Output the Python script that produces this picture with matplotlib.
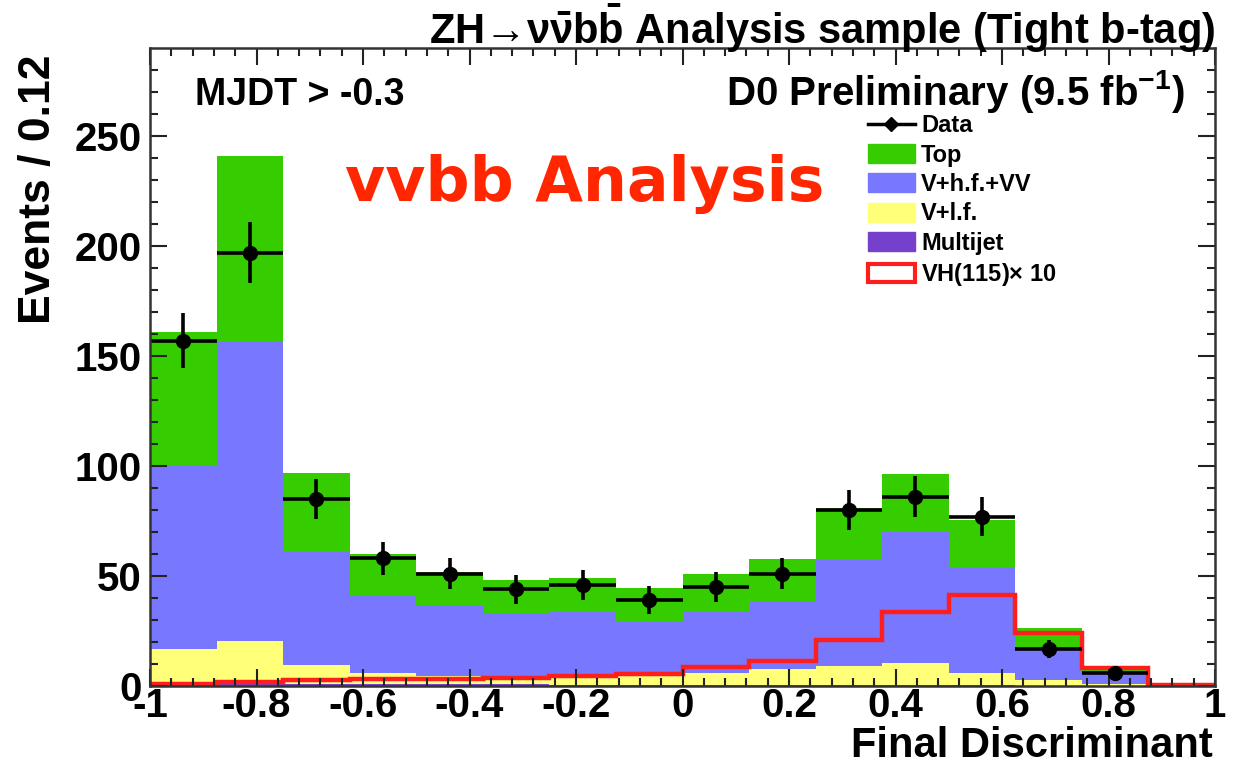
import numpy as np
import matplotlib
matplotlib.use("Agg")
import matplotlib.pyplot as plt
from matplotlib.patches import Patch
from matplotlib.lines import Line2D

plt.rcParams['font.family'] = ['Liberation Sans', 'DejaVu Sans']
plt.rcParams['font.weight'] = 'bold'
plt.rcParams['axes.unicode_minus'] = False
plt.rcParams['mathtext.fontset'] = 'custom'
plt.rcParams['mathtext.rm'] = 'Liberation Sans:bold'
plt.rcParams['mathtext.bf'] = 'Liberation Sans:bold'
plt.rcParams['mathtext.it'] = 'Liberation Sans:bold'
plt.rcParams['mathtext.default'] = 'bf'

# 16 bins of the final discriminant, -1 .. 1
bin_edges = np.linspace(-1, 1, 17)

# stacked backgrounds (events per bin)
multijet = [1.5, 1.5, 1.0, 1.0, 0.8, 0.8, 0.6, 0.5, 0.5, 0.5, 0.4, 0.4, 0.3, 0.2, 0.1, 0.0]
v_lf = [15.1, 19.1, 8.5, 5.0, 3.7, 3.2, 3.9, 4.5, 5.5, 7.1, 8.7, 10.2, 5.7, 2.5, 0.9, 0.0]
v_hf_vv = [83.4, 136.4, 52.0, 35.5, 32.5, 29.3, 29.2, 24.2, 27.7, 31.0, 48.8, 59.4, 47.7, 14.3, 5.0, 0.0]
top = [61.0, 84.0, 35.5, 18.5, 15.0, 14.7, 15.6, 15.3, 17.0, 19.0, 23.1, 26.4, 21.6, 9.2, 1.3, 0.0]

# signal VH(115) x 10
vh_signal = [1.0, 2.0, 2.5, 3.3, 3.3, 3.6, 4.7, 5.3, 8.6, 11.3, 20.9, 33.7, 41.3, 23.9, 8.0, 0.3]

# observed data (last bin empty)
data = [157, 197, 85, 58, 51, 44, 46, 39, 45, 51, 80, 86, 77, 17, 6]

green = '#35cc00'
blue = '#7878ff'
yellow = '#ffff78'
purple = '#7440cc'
red = '#ff1e1e'

fig = plt.figure(figsize=(12.49, 7.65), dpi=100)
ax = fig.add_axes([0.1201, 0.1033, 0.8527, 0.834])

width = np.diff(bin_edges)
left = bin_edges[:-1]
bottom = np.zeros(16)
for vals, col in [(multijet, purple), (v_lf, yellow), (v_hf_vv, blue), (top, green)]:
    ax.bar(left, vals, width=width, bottom=bottom, align='edge', color=col, linewidth=0)
    bottom = bottom + np.array(vals)

ax.stairs(vh_signal, bin_edges, color=red, linewidth=3.2, baseline=None)

centers = (bin_edges[:-1] + bin_edges[1:]) / 2
nd = len(data)
ax.errorbar(centers[:nd], data, yerr=np.sqrt(data), xerr=width[:nd] / 2,
            fmt='o', color='black', markersize=10, elinewidth=2.6, capsize=0)

ax.set_xlim(-1, 1)
ax.set_ylim(0, 290)
ax.set_xticks([-1, -0.8, -0.6, -0.4, -0.2, 0, 0.2, 0.4, 0.6, 0.8, 1])
ax.set_xticklabels(['-1', '-0.8', '-0.6', '-0.4', '-0.2', '0', '0.2', '0.4', '0.6', '0.8', '1'])
ax.set_xticks(np.arange(-1, 1.001, 0.04), minor=True)
ax.set_yticks([0, 50, 100, 150, 200, 250])
ax.set_yticks(np.arange(0, 290, 10), minor=True)
ax.tick_params(which='both', direction='in', top=True, right=True, width=1.5, color='#222222')
ax.tick_params(which='major', length=12, labelsize=29)
ax.tick_params(which='minor', length=6)
ax.tick_params(axis='x', pad=1)
ax.tick_params(axis='y', pad=6)
for s in ax.spines.values():
    s.set_linewidth(1.8)
    s.set_color('#333333')

fig.text(39 / 1249, 1 - 55 / 765, 'Events / 0.12', rotation=90, ha='center', va='top', fontsize=32)
fig.text(1213 / 1249, 1 - 757 / 765, 'Final Discriminant', ha='right', va='baseline', fontsize=30)
fig.text(1215 / 1249, 1 - 44 / 765, r'ZH→$\nu\bar{\nu}b\bar{b}$ Analysis sample (Tight b-tag)',
         ha='right', va='baseline', fontsize=30)
fig.text(195 / 1249, 1 - 105 / 765, 'MJDT > -0.3', ha='left', va='baseline', fontsize=27)
fig.text(1185 / 1249, 1 - 105 / 765, r'D0 Preliminary (9.5 fb$^{-1}$)', ha='right', va='baseline', fontsize=29)
fig.text(345 / 1249, 1 - 201 / 765, 'vvbb Analysis', ha='left', va='baseline', fontsize=44.5,
         color='#ff2600', family='DejaVu Sans', weight='bold')

handles = [
    Line2D([], [], color='black', marker='D', markersize=7, linewidth=2.5),
    Patch(facecolor=green, edgecolor=green),
    Patch(facecolor=blue, edgecolor=blue),
    Patch(facecolor=yellow, edgecolor=yellow),
    Patch(facecolor=purple, edgecolor=purple),
    Patch(facecolor='white', edgecolor=red, linewidth=3),
]
labels = ['Data', 'Top', 'V+h.f.+VV', 'V+l.f.', 'Multijet', r'VH(115)$\times$ 10']
ax.legend(handles, labels, loc='upper left', bbox_to_anchor=(0.674, 0.896), frameon=False,
          fontsize=17, handlelength=2.0, handleheight=0.85, handletextpad=0.25,
          labelspacing=0.27, borderpad=0, borderaxespad=0)

fig.savefig('out.png', dpi=100)
